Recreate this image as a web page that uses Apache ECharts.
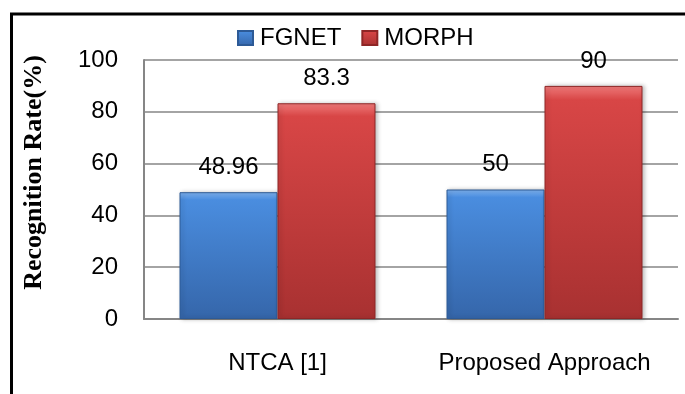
<!DOCTYPE html>
<html>
<head>
<meta charset="utf-8">
<script src="https://cdn.jsdelivr.net/npm/echarts@6/dist/echarts.min.js"></script>
<style>
  html, body { margin: 0; padding: 0; background: #ffffff; }
  #chart { width: 685px; height: 394px; }
</style>
</head>
<body>
<div id="chart"></div>
<script>
// Recognition rates per method and dataset
const categories = ['NTCA [1]', 'Proposed Approach'];
const fgnetValues = [48.96, 50];
const morphValues = [83.3, 90];
const yTicks = { min: 0, max: 100, interval: 20 };

const FONT = '"Liberation Sans", Arial, sans-serif';
const FONT_SIZE = 24;

function barFill(top, mid, bottom) {
  return new echarts.graphic.LinearGradient(0, 0, 0, 1, [
    { offset: 0, color: top },
    { offset: 0.06, color: mid },
    { offset: 1, color: bottom }
  ]);
}

const labelStyle = {
  show: true,
  position: 'top',
  distance: 13,
  fontFamily: FONT,
  fontSize: FONT_SIZE,
  color: '#000'
};

const chart = echarts.init(document.getElementById('chart'), null, { renderer: 'canvas' });
chart.setOption({
  animation: false,
  backgroundColor: '#ffffff',
  grid: { left: 144, right: 7, top: 60, bottom: 75, containLabel: false },
  legend: {
    top: 26,
    left: 237,
    padding: 0,
    itemWidth: 15,
    itemHeight: 14,
    itemGap: 20,
    icon: 'rect',
    textStyle: { fontFamily: FONT, fontSize: FONT_SIZE, color: '#000', padding: [0, 0, 0, 2] },
    data: ['FGNET', 'MORPH']
  },
  xAxis: {
    type: 'category',
    data: categories,
    axisLine: { show: true, lineStyle: { color: '#868686', width: 2 } },
    axisTick: { show: false },
    axisLabel: { interval: 0, margin: 32, fontFamily: FONT, fontSize: FONT_SIZE, color: '#000' }
  },
  yAxis: {
    type: 'value',
    min: yTicks.min,
    max: yTicks.max,
    interval: yTicks.interval,
    name: 'Recognition Rate(%)',
    nameLocation: 'middle',
    nameGap: 97,
    nameTextStyle: {
      fontFamily: '"Liberation Serif", "Times New Roman", serif',
      fontWeight: 'bold',
      fontSize: 26,
      color: '#000',
      padding: [0, 0, 0, 34]
    },
    axisLine: { show: true, lineStyle: { color: '#868686', width: 2 } },
    axisTick: { show: false },
    axisLabel: { margin: 26, fontFamily: FONT, fontSize: FONT_SIZE, color: '#000' },
    splitLine: { show: true, lineStyle: { color: '#868686', width: 1.5 } }
  },
  series: [
    {
      name: 'FGNET',
      type: 'bar',
      data: fgnetValues,
      barWidth: 98,
      barGap: '0%',
      itemStyle: {
        color: barFill('#7fb2ef', '#4a8ddf', '#3566aa'),
        borderColor: '#2d5a96',
        borderWidth: 1,
        shadowColor: 'rgba(0,0,0,0.25)',
        shadowBlur: 4,
        shadowOffsetX: 2
      },
      label: labelStyle
    },
    {
      name: 'MORPH',
      type: 'bar',
      data: morphValues,
      barWidth: 98,
      itemStyle: {
        color: barFill('#ef7a7a', '#d84646', '#a83131'),
        borderColor: '#8e2626',
        borderWidth: 1,
        shadowColor: 'rgba(0,0,0,0.25)',
        shadowBlur: 4,
        shadowOffsetX: 2
      },
      label: labelStyle
    }
  ],
  graphic: [
    // frame edges around the figure
    {
      type: 'polyline',
      silent: true,
      shape: { points: [[11.5, 394], [11.5, 14], [685, 14]] },
      style: { stroke: '#000', lineWidth: 3, fill: null }
    }
  ]
});
</script>
</body>
</html>
